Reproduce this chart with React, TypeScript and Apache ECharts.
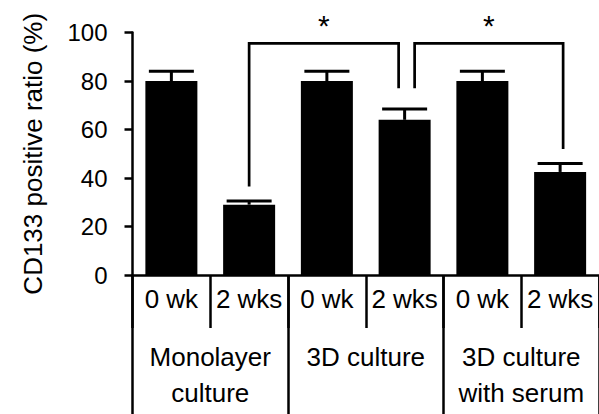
import React, { useEffect, useRef } from "react";
import * as echarts from "echarts";

const timeLabels = ["0 wk", "2 wks", "0 wk", "2 wks", "0 wk", "2 wks"];
const groupLabels = ["Monolayer\nculture", "3D culture", "3D culture\nwith serum"];
const meanValues = [80, 29, 80, 64, 80, 42.5];
const errorValues = [4, 1.5, 4, 4.5, 4, 3.5];
const yTicks = [0, 20, 40, 60, 80, 100];

// significance brackets: from category, to category, top level, left leg end, right leg end
const bracketFrom = [1, 3];
const bracketTo = [3, 5];
const bracketTop = [95.5, 95.5];
const bracketLeftEnd = [36.5, 77];
const bracketRightEnd = [77, 52];
const bracketMark = ["*", "*"];

const FONT = "'Liberation Sans', Arial, sans-serif";

export default function App() {
  const ref = useRef<HTMLDivElement>(null);
  useEffect(() => {
    if (!ref.current) return;
    const chart = echarts.init(ref.current, undefined, { renderer: "svg" });
    const legOffsetL = [0, 10];
    const legOffsetR = [-6, 3];
    chart.setOption({
      animation: false,
      backgroundColor: "#fff",
      textStyle: { fontFamily: FONT },
      grid: { left: 132.5, right: -6, top: 32.5, bottom: 139 },
      xAxis: [
        {
          type: "category",
          data: timeLabels,
          position: "bottom",
          axisLine: { show: true, lineStyle: { color: "#000", width: 2.5 } },
          axisTick: { show: true, length: 53, interval: 0, alignWithLabel: false, lineStyle: { color: "#000", width: 2.5 } },
          axisLabel: { interval: 0, color: "#000", fontSize: 26, fontFamily: FONT, margin: 11 },
          splitLine: { show: false },
        },
        {
          type: "category",
          data: groupLabels,
          position: "bottom",
          axisLine: { show: false },
          axisTick: { show: true, length: 140, interval: 0, alignWithLabel: false, lineStyle: { color: "#000", width: 2.5 } },
          axisLabel: { interval: 0, color: "#000", fontSize: 26, fontFamily: FONT, margin: 64, lineHeight: 36 },
          splitLine: { show: false },
        },
      ],
      yAxis: {
        type: "value",
        min: yTicks[0],
        max: yTicks[yTicks.length - 1],
        interval: 20,
        name: "CD133 positive ratio (%)",
        nameLocation: "middle",
        nameGap: 87,
        nameTextStyle: { color: "#000", fontSize: 26, fontFamily: FONT },
        axisLine: { show: true, lineStyle: { color: "#000", width: 2.5 } },
        axisTick: { show: true, length: 8, lineStyle: { color: "#000", width: 2.5 } },
        axisLabel: { color: "#000", fontSize: 24, fontFamily: FONT, margin: 25 },
        splitLine: { show: false },
      },
      series: [
        {
          type: "bar",
          xAxisIndex: 0,
          data: meanValues,
          barWidth: 52,
          itemStyle: { color: "#000" },
          z: 2,
        },
        {
          type: "custom",
          xAxisIndex: 0,
          clip: false,
          z: 3,
          data: meanValues.map((v, i) => [i, v, errorValues[i]]),
          renderItem: (params: any, api: any) => {
            const i = api.value(0);
            const v = api.value(1);
            const e = api.value(2);
            const base = api.coord([i, v]);
            const top = api.coord([i, v + e]);
            const half = 22.5;
            return {
              type: "group",
              children: [
                { type: "line", shape: { x1: base[0], y1: base[1], x2: top[0], y2: top[1] }, style: { stroke: "#000", lineWidth: 3 } },
                { type: "line", shape: { x1: top[0] - half, y1: top[1], x2: top[0] + half, y2: top[1] }, style: { stroke: "#000", lineWidth: 3 } },
              ],
            };
          },
        },
        {
          type: "custom",
          xAxisIndex: 0,
          clip: false,
          z: 4,
          data: bracketFrom.map((f, i) => [f, bracketTo[i], bracketTop[i], bracketLeftEnd[i], bracketRightEnd[i], i]),
          renderItem: (params: any, api: any) => {
            const f = api.value(0);
            const t = api.value(1);
            const top = api.value(2);
            const le = api.value(3);
            const re = api.value(4);
            const k = api.value(5);
            const pTopL = api.coord([f, top]);
            const pTopR = api.coord([t, top]);
            const pL = api.coord([f, le]);
            const pR = api.coord([t, re]);
            const xl = pTopL[0] + legOffsetL[k];
            const xr = pTopR[0] + legOffsetR[k];
            return {
              type: "group",
              children: [
                {
                  type: "polyline",
                  shape: { points: [[xl, pL[1]], [xl, pTopL[1]], [xr, pTopR[1]], [xr, pR[1]]] },
                  style: { stroke: "#000", lineWidth: 2.7, fill: "none" },
                },
                {
                  type: "text",
                  x: (xl + xr) / 2,
                  y: pTopL[1] - 3,
                  style: { text: bracketMark[k], fill: "#000", fontSize: 30, fontFamily: FONT, align: "center", verticalAlign: "bottom" },
                },
              ],
            };
          },
        },
      ],
    });
    return () => chart.dispose();
  }, []);
  return <div ref={ref} style={{ position: "fixed", left: 0, top: 0, width: 599, height: 414 }} />;
}
